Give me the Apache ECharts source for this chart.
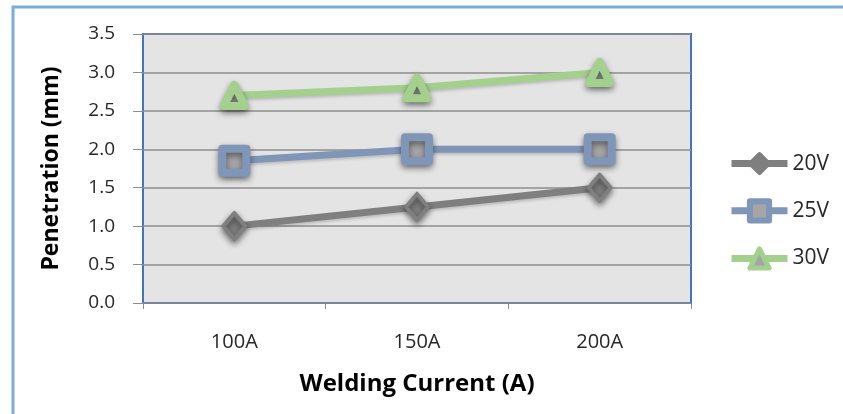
<!DOCTYPE html>
<html>
<head>
<meta charset="utf-8">
<script src="https://cdn.jsdelivr.net/npm/echarts@6/dist/echarts.min.js"></script>
<style>
  html, body { margin: 0; padding: 0; background: #ffffff; }
  #chart { width: 843px; height: 414px; }
</style>
</head>
<body>
<div id="chart"></div>
<script>
// Penetration depth versus welding current for three arc voltages
const currents = ['100A', '150A', '200A'];
const seriesNames = ['20V', '25V', '30V'];
const v20 = [1.0, 1.25, 1.5];
const v25 = [1.85, 2.0, 2.0];
const v30 = [2.7, 2.8, 3.0];
const yTicks = { min: 0, max: 3.5, step: 0.5 };

const FONT = '"Open Sans", "Noto Sans", sans-serif';
const GREY = '#7f7f7f';
const BLUE = '#7f96b9';
const GREEN = '#a3d08c';
const FILL = '#a5a5a5';

const markerShadow = {
  shadowBlur: 6,
  shadowOffsetX: 0,
  shadowOffsetY: 3,
  shadowColor: 'rgba(0,0,0,0.45)'
};

function lineSeries(name, values, color, symbol, size, fill, border) {
  return {
    name: name,
    type: 'line',
    data: values,
    symbol: symbol,
    symbolSize: size,
    lineStyle: { color: color, width: 7, shadowBlur: 3, shadowOffsetY: 2, shadowColor: 'rgba(0,0,0,0.18)' },
    itemStyle: Object.assign({ color: fill, borderColor: color, borderWidth: border, borderJoin: 'round' }, markerShadow),
    emphasis: { disabled: true },
    z: 3
  };
}

function legendItem(name, color, fill, border) {
  return {
    name: name,
    itemStyle: { color: fill, borderColor: color, borderWidth: border, borderJoin: 'round', shadowBlur: 0 },
    lineStyle: { color: color, width: 7, shadowBlur: 0 }
  };
}

const chart = echarts.init(document.getElementById('chart'), null, { renderer: 'canvas' });
chart.setOption({
  animation: false,
  backgroundColor: '#ffffff',
  graphic: [{
    type: 'rect',
    shape: { x: 13, y: 7, width: 900, height: 500 },
    style: { fill: 'none', stroke: '#79acdf', lineWidth: 3 },
    z: 0
  }],
  grid: {
    left: 143, top: 34, width: 548, height: 269,
    show: true,
    backgroundColor: '#e4e4e4',
    borderColor: '#4472c4',
    borderWidth: 2
  },
  legend: {
    orient: 'vertical',
    left: 723,
    top: 147,
    itemWidth: 56,
    itemHeight: 24,
    itemGap: 23,
    textStyle: { fontFamily: FONT, fontSize: 21, color: '#262626' },
    data: [
      legendItem(seriesNames[0], GREY, GREY, 4),
      legendItem(seriesNames[1], BLUE, FILL, 6),
      legendItem(seriesNames[2], GREEN, FILL, 5)
    ]
  },
  xAxis: {
    type: 'category',
    data: currents,
    boundaryGap: true,
    axisLine: { show: false },
    axisTick: { show: true, length: 6, lineStyle: { color: '#8c8c8c' } },
    axisLabel: { margin: 29, fontFamily: FONT, fontSize: 20, color: '#262626' },
    name: 'Welding Current (A)',
    nameLocation: 'middle',
    nameGap: 69,
    nameTextStyle: { fontFamily: FONT, fontSize: 24, fontWeight: 'bold', color: '#000000' }
  },
  yAxis: {
    type: 'value',
    min: yTicks.min,
    max: yTicks.max,
    interval: yTicks.step,
    axisLine: { show: false },
    axisTick: { show: true, length: 10, lineStyle: { color: '#8c8c8c' } },
    axisLabel: {
      margin: 28, fontFamily: FONT, fontSize: 19, color: '#262626',
      formatter: v => v.toFixed(1)
    },
    splitLine: { show: true, lineStyle: { color: '#8e8e8e', width: 1.5 } },
    name: 'Penetration (mm)',
    nameLocation: 'middle',
    nameGap: 80,
    nameTextStyle: { fontFamily: FONT, fontSize: 23, fontWeight: 'bold', color: '#000000' }
  },
  series: [
    lineSeries(seriesNames[0], v20, GREY, 'diamond', [22, 26], GREY, 4),
    lineSeries(seriesNames[1], v25, BLUE, 'rect', 24, FILL, 8),
    lineSeries(seriesNames[2], v30, GREEN, 'triangle', 21, FILL, 8)
  ]
});
</script>
</body>
</html>
